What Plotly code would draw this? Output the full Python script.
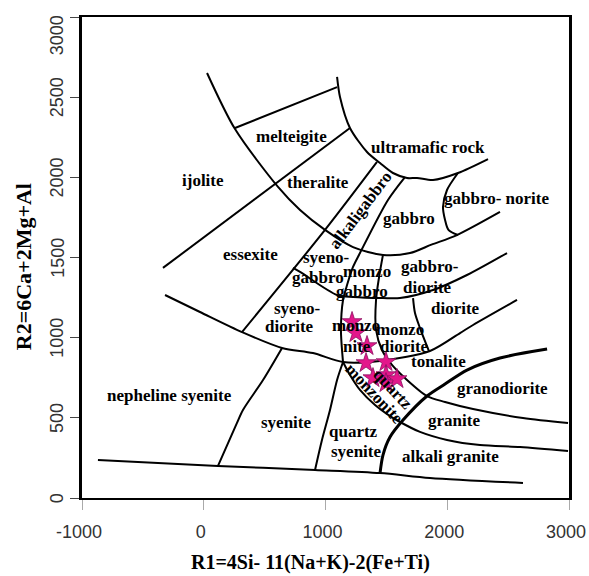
import plotly.graph_objects as go

# ---- boundary lines of the R1-R2 diagram (data coordinates) ----
ARC_A_X = [27, 257, 610, 791, 996, 1226, 1472, 1694, 1870, 2080, 2433]
ARC_A_Y = [2651, 2301, 1940, 1796, 1672, 1565, 1516, 1528, 1580, 1640, 1784]

ARC_B_X = [1095, 1119, 1201, 1341, 1448, 1554, 1670, 1752, 1883, 2088, 2335]
ARC_B_Y = [2626, 2501, 2308, 2158, 2089, 2027, 1996, 1996, 1983, 2027, 2114]

MELT_X = [257, 1095]
MELT_Y = [2308, 2563]

THER_X = [-335, 1201]
THER_Y = [1435, 2308]

BAND_L_X = [1423, 996, 314]
BAND_L_Y = [2096, 1672, 1035]

BAND_R_X = [1653, 1513, 1283, 1226, 1177, 1144, 1127, 1144]
BAND_R_Y = [2002, 1859, 1528, 1441, 1328, 1235, 1048, 848]

QSY_L_X = [1144, 1095, 1037, 971, 914]
QSY_L_Y = [848, 736, 549, 362, 175]

D_X = [1472, 1440, 1415, 1415, 1464, 1546, 1653, 1834, 1982, 2212, 2622, 2992]
D_Y = [1516, 1378, 1235, 1048, 923, 830, 748, 636, 599, 555, 499, 468]

E_X = [733, 791, 1095, 1226, 1472, 1612, 1883, 2162, 2491]
E_Y = [1435, 1410, 1266, 1254, 1247, 1247, 1297, 1391, 1528]

DIOR_X = [1719, 1735, 1776, 1850]
DIOR_Y = [1247, 1154, 1060, 916]

BIG_X = [-318, -31, 314, 643, 897, 1144, 1448, 1858, 2105, 2212, 2573]
BIG_Y = [1266, 1160, 1035, 936, 904, 848, 855, 917, 1029, 1079, 1235]

SYEN_X = [643, 487, 322, 273, 117]
SYEN_Y = [936, 736, 549, 468, 200]

BOTTOM_X = [-869, 117, 914, 1448, 1858, 2622]
BOTTOM_Y = [237, 200, 175, 156, 125, 94]

THICK_X = [1448, 1472, 1530, 1637, 1834, 1982, 2162, 2433, 2820]
THICK_Y = [156, 268, 380, 486, 636, 711, 798, 873, 929]

LOWER_X = [1144, 1201, 1283, 1407, 1530, 1612, 1776, 1998, 2269, 2598, 2992]
LOWER_Y = [848, 767, 674, 580, 511, 474, 412, 362, 330, 318, 293]

NORITE_X = [2088, 1998, 1965, 1982, 2010, 2088]
NORITE_Y = [2027, 1921, 1815, 1734, 1672, 1640]

# ---- samples ----
STAR_X = [1218, 1250, 1341, 1333, 1497, 1390, 1497, 1497, 1587]
STAR_Y = [1098, 1029, 948, 842, 848, 748, 767, 717, 742]

# ---- field labels ----
LABEL_TEXT = ["ijolite", "melteigite", "ultramafic rock", "theralite", "gabbro- norite",
              "gabbro", "essexite", "syeno-", "gabbro", "monzo", "gabbro", "gabbro-",
              "diorite", "syeno-", "diorite", "diorite", "monzo", "nite", "monzo",
              "diorite", "tonalite", "granodiorite", "nepheline syenite", "syenite",
              "quartz", "syenite", "granite", "alkali granite"]
LABEL_X = [-6, 717, 1842, 939, 2401, 1686, 388, 1012, 939, 1341, 1300, 1858,
           1834, 774, 708, 2064, 1251, 1259, 1612, 1645, 1930, 2450, -285, 676,
           1226, 1251, 2056, 2023]
LABEL_Y = [1983, 2252, 2189, 1965, 1871, 1746, 1516, 1497, 1378, 1410, 1285, 1441,
           1316, 1185, 1067, 1185, 1079, 942, 1048, 945, 852, 686, 642, 468,
           412, 287, 486, 256]

ROT_TEXT = ["alkaligabbro", "quartz", "monzonite"]
ROT_X = [1283, 1554, 1398]
ROT_Y = [1796, 674, 649]
ROT_ANGLE = [-53, 47, 47]

X_TICKS = [-1000, 0, 1000, 2000, 3000]
X_TICK_TEXT = ["-1000", "0", "1000", "2000", "3000"]
Y_TICKS = [0, 500, 1000, 1500, 2000, 2500, 3000]
Y_TICK_TEXT = ["0", "500", "1000", "1500", "2000", "2500", "3000"]

X_TITLE = "R1=4Si- 11(Na+K)-2(Fe+Ti)"
Y_TITLE = "R2=6Ca+2Mg+Al"

SERIF = "Liberation Serif, Times New Roman, serif"
SANS = "Liberation Sans, Arial, sans-serif"

fig = go.Figure()

thin_lines = [
    (ARC_A_X, ARC_A_Y), (ARC_B_X, ARC_B_Y), (MELT_X, MELT_Y), (THER_X, THER_Y),
    (BAND_L_X, BAND_L_Y), (BAND_R_X, BAND_R_Y), (QSY_L_X, QSY_L_Y), (D_X, D_Y),
    (E_X, E_Y), (DIOR_X, DIOR_Y), (BIG_X, BIG_Y), (SYEN_X, SYEN_Y),
    (BOTTOM_X, BOTTOM_Y), (LOWER_X, LOWER_Y), (NORITE_X, NORITE_Y),
]
for xs, ys in thin_lines:
    fig.add_trace(go.Scatter(x=xs, y=ys, mode="lines", showlegend=False,
                             hoverinfo="skip",
                             line=dict(color="black", width=2, shape="spline", smoothing=0.8)))
fig.add_trace(go.Scatter(x=THICK_X, y=THICK_Y, mode="lines", showlegend=False,
                         hoverinfo="skip",
                         line=dict(color="black", width=3, shape="spline", smoothing=0.8)))

fig.add_trace(go.Scatter(x=STAR_X, y=STAR_Y, mode="markers", showlegend=False,
                         marker=dict(symbol="star", size=15, color="#E3178B",
                                     line=dict(color="#8A1060", width=0.8))))

annotations = []
for t, x, y in zip(LABEL_TEXT, LABEL_X, LABEL_Y):
    annotations.append(dict(x=x, y=y, xref="x", yref="y", text="<b>%s</b>" % t,
                            xanchor="center", yanchor="middle",
                            showarrow=False, font=dict(family=SERIF, size=17, color="black")))
for t, x, y, a in zip(ROT_TEXT, ROT_X, ROT_Y, ROT_ANGLE):
    annotations.append(dict(x=x, y=y, xref="x", yref="y", text="<b>%s</b>" % t,
                            xanchor="center", yanchor="middle",
                            textangle=a, showarrow=False,
                            font=dict(family=SERIF, size=17, color="black")))
for v, t in zip(Y_TICKS, Y_TICK_TEXT):
    annotations.append(dict(x=-0.051, y=v, xref="paper", yref="y", text=t,
                            xanchor="center", yanchor="middle",
                            textangle=-90, showarrow=False,
                            yshift=-18 if v == max(Y_TICKS) else 0,
                            font=dict(family=SANS, size=18, color="#333")))
annotations.append(dict(x=0.47, y=-0.135, xref="paper", yref="paper",
                        xanchor="center", yanchor="middle",
                        text="<b>%s</b>" % X_TITLE, showarrow=False,
                        font=dict(family=SERIF, size=20, color="black")))
annotations.append(dict(x=-0.121, y=0.48, xref="paper", yref="paper",
                        xanchor="center", yanchor="middle",
                        text="<b>%s</b>" % Y_TITLE, showarrow=False, textangle=-90,
                        font=dict(family=SERIF, size=22, color="black")))

fig.update_layout(
    width=589, height=576,
    margin=dict(l=82, r=20, t=17, b=78, autoexpand=False),
    paper_bgcolor="white", plot_bgcolor="white",
    annotations=annotations,
    xaxis=dict(range=[-1000, 3000], showgrid=False, zeroline=False, automargin=False,
               showline=True, linecolor="black", linewidth=2, mirror=True,
               ticks="outside", ticklen=10, tickcolor="#aaa",
               tickvals=X_TICKS, ticktext=X_TICK_TEXT, ticklabelstandoff=6,
               ticklabelshift=-3, ticklabeloverflow="allow",
               tickfont=dict(family=SANS, size=18, color="#333")),
    yaxis=dict(range=[0, 3000], showgrid=False, zeroline=False, automargin=False,
               showline=True, linecolor="black", linewidth=2.5, mirror=True,
               ticks="outside", ticklen=9, tickcolor="#444",
               tickvals=Y_TICKS, showticklabels=False),
)

fig.write_html("out.html")
